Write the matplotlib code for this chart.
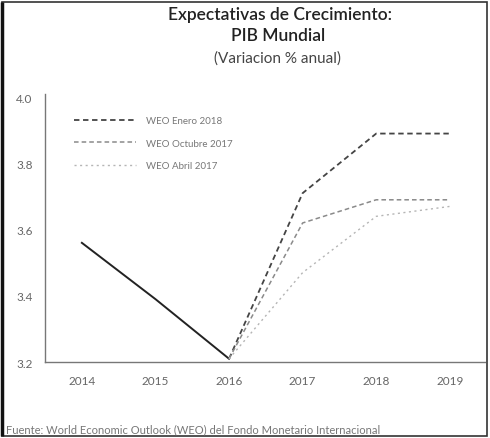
#!/usr/bin/env python3
"""
Expectativas de crecimiento del PIB mundial (WEO).
"""
import matplotlib

matplotlib.use("Agg")
import matplotlib.pyplot as plt
from matplotlib.patches import Rectangle

plt.rcParams["font.family"] = ["Lato", "DejaVu Sans"]

# historical, 2014-2016
hist_years = [2014, 2015, 2016]
hist_values = [3.56, 3.39, 3.21]

# projections, 2016-2019
proj_years = [2016, 2017, 2018, 2019]
weo_enero_2018 = [3.21, 3.71, 3.89, 3.89]
weo_octubre_2017 = [3.21, 3.62, 3.69, 3.69]
weo_abril_2017 = [3.21, 3.47, 3.64, 3.67]

tick_years = [2014, 2015, 2016, 2017, 2018, 2019]
y_ticks = [3.2, 3.4, 3.6, 3.8, 4.0]

fig = plt.figure(figsize=(4.9, 4.39), dpi=100)
ax = fig.add_axes([0.092, 0.173, 0.898, 0.611])

ax.plot(hist_years, hist_values, color="#222222", lw=1.4)
ax.plot(proj_years, weo_enero_2018, color="#444444", lw=1.3,
        linestyle=(0, (3, 2)), label="WEO Enero 2018")
ax.plot(proj_years, weo_octubre_2017, color="#8a8a8a", lw=1.1,
        linestyle=(0, (3, 2)), label="WEO Octubre 2017")
ax.plot(proj_years, weo_abril_2017, color="#b5b5b5", lw=1.0,
        linestyle=(0, (1.5, 2.5)), label="WEO Abril 2017")

ax.set_xlim(2013.5, 2019.48)
ax.set_ylim(3.2, 4.01)
ax.set_xticks(tick_years)
ax.set_xticklabels([str(y) for y in tick_years])
ax.set_yticks(y_ticks)
ax.set_yticklabels([f"{v:.1f}" for v in y_ticks])
ax.tick_params(axis="both", length=0, labelsize=8.5, labelcolor="#666666", pad=9)

for side in ("top", "right"):
    ax.spines[side].set_visible(False)
for side in ("left", "bottom"):
    ax.spines[side].set_color("#777777")
    ax.spines[side].set_linestyle((0, (1, 1)))
    ax.spines[side].set_linewidth(1.0)

ax.legend(loc="upper left", bbox_to_anchor=(0.045, 0.95), frameon=False,
          fontsize=7, labelcolor="#777777", handlelength=6.4,
          handletextpad=1.0, labelspacing=1.4)

fig.text(0.572, 0.965, "Expectativas de Crecimiento:", ha="center", va="center",
         fontsize=12.5, fontweight="semibold", color="#222222")
fig.text(0.567, 0.918, "PIB Mundial", ha="center", va="center",
         fontsize=12.5, fontweight="semibold", color="#222222")
fig.text(0.567, 0.866, "(Variacion % anual)", ha="center", va="center",
         fontsize=11, color="#444444")

fig.text(0.012, 0.022,
         "Fuente: World Economic Outlook (WEO) del Fondo Monetario Internacional",
         ha="left", va="center", fontsize=8, color="#777777")

# outer frame of the scanned figure
fig.patches.append(Rectangle((0.004, 0.004), 0.99, 0.99, transform=fig.transFigure,
                             fill=False, edgecolor="#333333", lw=1.2))
fig.patches.append(Rectangle((0.004, 0.004), 0.0, 0.99, transform=fig.transFigure,
                             fill=False, edgecolor="#111111", lw=2.5))

fig.savefig("out.png", dpi=100)
